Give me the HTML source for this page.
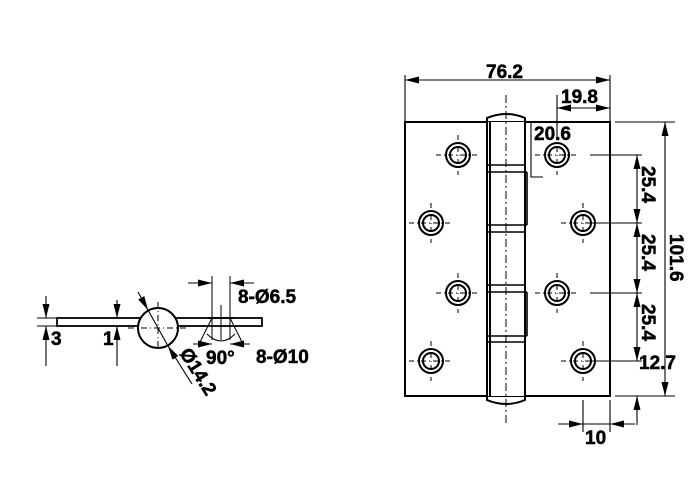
<!DOCTYPE html><html><head><style>body{margin:0;background:#fff}svg{display:block}text{font-family:"Liberation Sans",Arial,sans-serif;font-weight:bold;font-size:19px;fill:#000;stroke:#000;stroke-width:0.5}</style></head><body>
<svg width="699" height="486" viewBox="0 0 699 486" xmlns="http://www.w3.org/2000/svg">
<defs><marker id="a" viewBox="0 0 14 7" refX="14" refY="3.5" markerWidth="14" markerHeight="7" orient="auto-start-reverse" markerUnits="userSpaceOnUse"><path d="M0,0L14,3.5L0,7z"/></marker>
<g id="h"><circle r="12" fill="#fff" stroke="#000" stroke-width="2"/><circle r="8" fill="none" stroke="#000" stroke-width="2"/><path d="M-22,0H22M0,-20V20" stroke="#000" stroke-width="1" stroke-dasharray="5,3,1,3"/></g></defs>
<g stroke="#000" fill="none" stroke-width="2">
<rect x="405" y="122" width="205" height="274" fill="#fff"/>
<rect x="487" y="122" width="38" height="274" fill="#fff" stroke="none"/>
<path d="M487,122V396M525,122V396M490,122V396"/>
<path d="M487,122V118Q506,110 525,118V122M487,396V400Q506,408 525,400V396"/>
<path d="M487,165H525M487,172H527M527,172V225M487,225H527M487,232H525M487,285H525M487,292H527M527,292V336M487,336H527M487,342H525" stroke-width="1.6"/>
</g>
<path d="M506,95V425" stroke="#000" stroke-width="1" stroke-dasharray="8,3,2,3"/>
<use href="#h" x="458" y="155"/><use href="#h" x="557" y="155"/>
<use href="#h" x="431" y="223"/><use href="#h" x="583" y="223"/>
<use href="#h" x="458" y="293"/><use href="#h" x="557" y="293"/>
<use href="#h" x="431" y="361"/><use href="#h" x="583" y="361"/>
<g stroke="#000" stroke-width="1.1" fill="none">
<path d="M405,75V122M610,75V122M557,95V140M531,122V177H543"/>
<path d="M405,80H610" marker-start="url(#a)" marker-end="url(#a)"/>
<path d="M557,108H610" marker-start="url(#a)" marker-end="url(#a)"/>
<path d="M615,122H675M615,396H675M590,155H642M590,223H642M590,293H642M590,361H642"/>
<path d="M665,122V396" marker-start="url(#a)" marker-end="url(#a)"/>
<path d="M637,155V223" marker-start="url(#a)" marker-end="url(#a)"/>
<path d="M637,223V293" marker-start="url(#a)" marker-end="url(#a)"/>
<path d="M637,293V361" marker-start="url(#a)" marker-end="url(#a)"/>
<path d="M637,425V396" marker-end="url(#a)"/>
<path d="M583,400V432M610,400V432"/>
<path d="M558,424H583" marker-end="url(#a)"/><path d="M635,424H610" marker-end="url(#a)"/>
<path d="M583,424H610"/>
</g>
<text x="486" y="78">76.2</text><text x="561" y="103">19.8</text><text x="534" y="140">20.6</text>
<text x="639" y="369">12.7</text><text x="585" y="444">10</text>
<text transform="translate(642,166) rotate(90)">25.4</text>
<text transform="translate(642,234) rotate(90)">25.4</text>
<text transform="translate(642,304) rotate(90)">25.4</text>
<text transform="translate(670,234) rotate(90)">101.6</text>
<g stroke="#000" fill="none">
<rect x="57" y="318" width="205" height="8" fill="#fff" stroke-width="1.8"/>
<circle cx="158" cy="328" r="20" fill="#fff" stroke-width="2"/>
<path d="M128,328H188M158,302V350" stroke-width="1" stroke-dasharray="6,3,1,3"/>
<path d="M37,318H57M37,326H57" stroke-width="1"/>
<path d="M46,296V318" stroke-width="1.1" marker-end="url(#a)"/><path d="M46,366V326" stroke-width="1.1" marker-end="url(#a)"/>
<path d="M117,300V318" stroke-width="1.1" marker-end="url(#a)"/><path d="M117,366V326" stroke-width="1.1" marker-end="url(#a)"/>
<path d="M138,292L148,310" stroke-width="1.1" marker-end="url(#a)"/><path d="M192,384L168,346" stroke-width="1.1" marker-end="url(#a)"/>
<path d="M148,310L168,346" stroke-width="1.1"/>
<path d="M212,276V340M230,276V340M221,305V340" stroke-width="1"/>
<path d="M188,283H212" stroke-width="1.1" marker-end="url(#a)"/><path d="M254,283H230" stroke-width="1.1" marker-end="url(#a)"/>
<path d="M212,318L199,344M230,318L243,344M207,334Q221,348 235,334" stroke-width="1"/>
<path d="M208,318H234" stroke-width="1.8"/>
<path d="M193,344H212" stroke-width="1.1" marker-end="url(#a)"/><path d="M250,344H230" stroke-width="1.1" marker-end="url(#a)"/>
</g>
<text x="238" y="303">8-Ø6.5</text><text x="256" y="363">8-Ø10</text><text x="206" y="364">90°</text>
<text x="51" y="345">3</text><text x="103" y="345">1</text>
<text transform="translate(179,353) rotate(58)">Ø14.2</text>
</svg></body></html>
